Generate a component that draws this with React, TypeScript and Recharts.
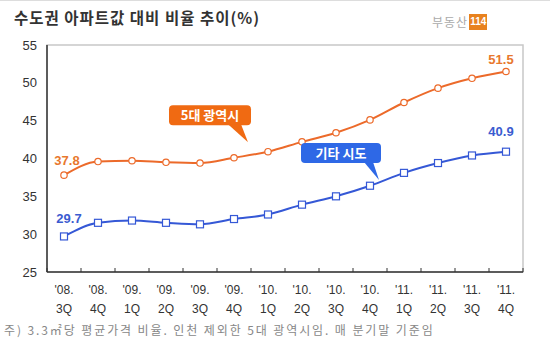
import React from "react";
import {
  LineChart,
  Line,
  XAxis,
  YAxis,
  ReferenceArea,
  ReferenceDot,
} from "recharts";

const KR = '"Noto Sans CJK KR", "Noto Sans", sans-serif';
const NUM = '"Liberation Sans", Arial, sans-serif';

const ORANGE = "#EC6A2A";
const BLUE = "#3558D6";

const YEARS = ["'08.", "'08.", "'09.", "'09.", "'09.", "'09.", "'10.", "'10.", "'10.", "'10.", "'11.", "'11.", "'11.", "'11."];
const QUARTERS = ["3Q", "4Q", "1Q", "2Q", "3Q", "4Q", "1Q", "2Q", "3Q", "4Q", "1Q", "2Q", "3Q", "4Q"];

// 5대 광역시 / 기타 시도 (수도권 대비 %)
const METRO5 = [37.8, 39.6, 39.7, 39.5, 39.4, 40.1, 40.9, 42.2, 43.4, 45.1, 47.4, 49.3, 50.6, 51.5];
const OTHERS = [29.7, 31.5, 31.8, 31.5, 31.3, 32.0, 32.6, 33.9, 35.0, 36.4, 38.1, 39.4, 40.4, 40.9];

const Y_TICKS = [25, 30, 35, 40, 45, 50, 55];

const rows = QUARTERS.map((q, i) => ({
  label: `${YEARS[i]} ${q}`,
  metro: METRO5[i],
  others: OTHERS[i],
}));

function QuarterTick(props: any) {
  const { x, y, payload, index, visibleTicksCount, width } = props;
  const n = visibleTicksCount || QUARTERS.length;
  const half = width ? width / n / 2 : 17;
  const [yr, q] = String(payload.value).split(" ");
  return (
    <g>
      <line x1={x - half} y1={y} x2={x - half} y2={y - 4} stroke="#333" />
      {index === n - 1 && <line x1={x + half} y1={y} x2={x + half} y2={y - 4} stroke="#333" />}
      <text x={x} y={y + 22} textAnchor="middle" fontSize={12} fill="#333" fontFamily={NUM}>
        {yr}
      </text>
      <text x={x} y={y + 41} textAnchor="middle" fontSize={12} fill="#333" fontFamily={NUM}>
        {q}
      </text>
    </g>
  );
}

function endLabel(color: string, first: [number, number], last: [number, number]) {
  return (props: any) => {
    const { x, y, index, value } = props;
    if (index !== 0 && index !== QUARTERS.length - 1) return null;
    const [dx, dy] = index === 0 ? first : last;
    return (
      <text x={x + dx} y={y + dy} textAnchor="middle" fontSize={13} fontWeight="bold" fill={color} fontFamily={NUM}>
        {Number(value).toFixed(1)}
      </text>
    );
  };
}

function CircleDot(props: any) {
  const { cx, cy } = props;
  if (cx == null || cy == null) return null;
  return <circle cx={cx} cy={cy} r={3.2} fill="#fff" stroke={ORANGE} strokeWidth={1.2} />;
}

function SquareDot(props: any) {
  const { cx, cy } = props;
  if (cx == null || cy == null) return null;
  return <rect x={cx - 3.5} y={cy - 3.5} width={7} height={7} fill="#fff" stroke={BLUE} strokeWidth={1.2} />;
}

// 말풍선: 기준점(cx, cy)이 박스 아래쪽
function callout(text: string, color: string, left: number, right: number, tail: [number, number, number, number]) {
  return (props: any) => {
    const { cx, cy } = props;
    const [t1, t2, tx, ty] = tail;
    return (
      <g>
        <rect x={cx + left} y={cy - 20} width={right - left} height={20} rx={4} fill={color} />
        <polygon points={`${cx + t1},${cy - 1} ${cx + t2},${cy - 1} ${cx + tx},${cy + ty}`} fill={color} />
        <text
          x={cx + (left + right) / 2}
          y={cy - 5}
          textAnchor="middle"
          fontSize={13}
          fontWeight="bold"
          fill="#fff"
          fontFamily={KR}
        >
          {text}
        </text>
      </g>
    );
  };
}

export default function App() {
  return (
    <div
      style={{
        position: "absolute",
        left: 0,
        top: 0,
        width: 550,
        height: 345,
        background: "#fff",
        borderTop: "1px solid #ddd",
        boxSizing: "border-box",
        overflow: "hidden",
      }}
    >
      <div
        style={{
          position: "absolute",
          left: 14,
          top: 5,
          fontFamily: KR,
          fontWeight: "bold",
          fontSize: 15.5,
          letterSpacing: 1,
          color: "#333",
          whiteSpace: "nowrap",
        }}
      >
        수도권 아파트값 대비 비율 추이(%)
      </div>
      <div
        style={{
          position: "absolute",
          left: 432,
          top: 12,
          fontFamily: KR,
          fontSize: 12,
          letterSpacing: 1,
          color: "#aaa",
          display: "flex",
          alignItems: "center",
          whiteSpace: "nowrap",
        }}
      >
        <span>부동산</span>
        <span
          style={{
            marginLeft: 1,
            background: "#E8821E",
            color: "#fff",
            fontFamily: NUM,
            fontWeight: "bold",
            fontSize: 10,
            letterSpacing: 0,
            padding: "2px 1px",
            lineHeight: "12px",
          }}
        >
          114
        </span>
      </div>
      <LineChart width={550} height={345} data={rows} margin={{ top: 44, right: 27, bottom: 29, left: 0 }}>
        <ReferenceArea y1={25} y2={55} fill="none" stroke="#c8c8c8" strokeWidth={1.5} />
        <XAxis
          dataKey="label"
          scale="band"
          interval={0}
          tickSize={0}
          tickMargin={0}
          height={45}
          axisLine={{ stroke: "#333", strokeWidth: 1.5 }}
          tickLine={false}
          tick={<QuarterTick />}
        />
        <YAxis
          domain={[25, 55]}
          ticks={Y_TICKS}
          width={47}
          tickLine={false}
          tickSize={6}
          tickMargin={4}
          axisLine={{ stroke: "#333", strokeWidth: 1.5 }}
          tick={{ fontSize: 13, fill: "#333", fontFamily: NUM }}
        />
        <Line
          type="monotone"
          dataKey="metro"
          stroke={ORANGE}
          strokeWidth={2}
          dot={<CircleDot />}
          activeDot={false}
          isAnimationActive={false}
          label={endLabel("#E8782E", [3, -10], [-5, -7])}
        />
        <Line
          type="monotone"
          dataKey="others"
          stroke={BLUE}
          strokeWidth={2}
          dot={<SquareDot />}
          activeDot={false}
          isAnimationActive={false}
          label={endLabel("#3A5BD0", [5, -13], [-5, -16])}
        />
        <ReferenceDot
          x="'09. 4Q"
          y={44.4}
          r={0}
          shape={callout("5대 광역시", "#F06A12", -65, 17, [-6, 7, 14, 17])}
        />
        <ReferenceDot
          x="'10. 4Q"
          y={39.4}
          r={0}
          shape={callout("기타 시도", "#2E68E6", -69, 11, [-6, 3, 9, 17])}
        />
      </LineChart>
      <div
        style={{
          position: "absolute",
          left: 4,
          top: 320,
          fontFamily: KR,
          fontSize: 12,
          letterSpacing: 1.9,
          color: "#888",
          whiteSpace: "nowrap",
        }}
      >
        주) 3.3㎡당 평균가격 비율. 인천 제외한 5대 광역시임. 매 분기말 기준임
      </div>
    </div>
  );
}
